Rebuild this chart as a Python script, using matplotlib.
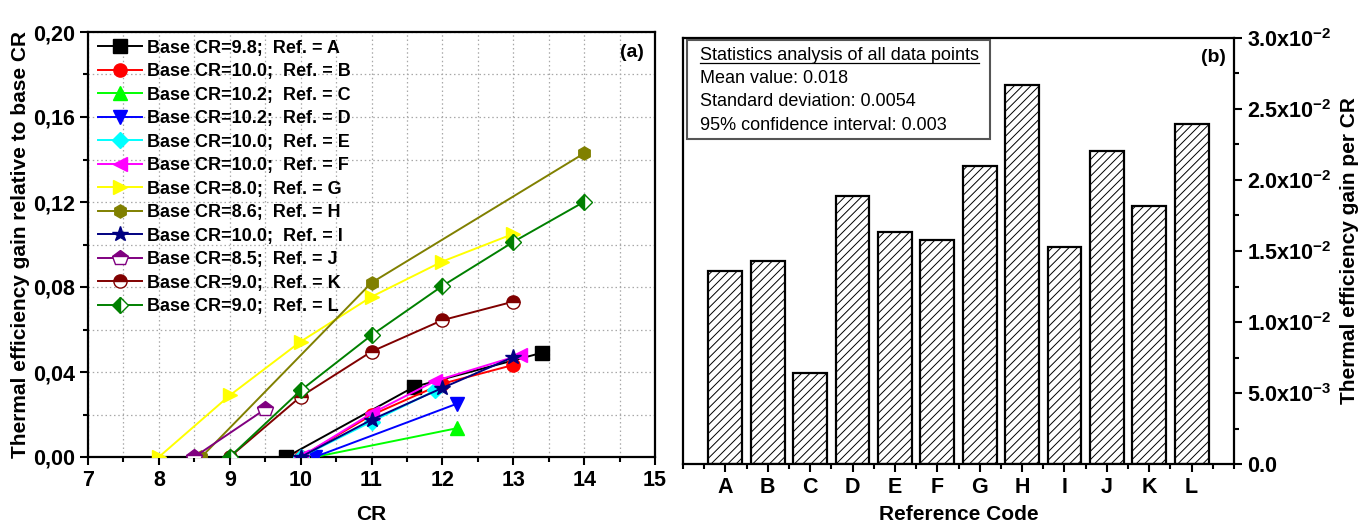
import matplotlib
matplotlib.use("Agg")
import math
import matplotlib.pyplot as plt
from matplotlib.ticker import MultipleLocator, FuncFormatter, FixedLocator
from matplotlib.lines import Line2D
from matplotlib.patches import Rectangle

plt.rcParams['font.family'] = ['Liberation Sans', 'DejaVu Sans']
plt.rcParams['mathtext.fontset'] = 'custom'
plt.rcParams['mathtext.rm'] = 'Liberation Sans'
plt.rcParams['mathtext.bf'] = 'Liberation Sans:bold'
plt.rcParams['hatch.linewidth'] = 0.7

# ---------------- data: panel (a) ----------------
ref_codes = ['A', 'B', 'C', 'D', 'E', 'F', 'G', 'H', 'I', 'J', 'K', 'L']
base_cr_labels = ['9.8', '10.0', '10.2', '10.2', '10.0', '10.0', '8.0', '8.6', '10.0', '8.5', '9.0', '9.0']

cr_A = [9.8, 11.6, 13.4]
gain_A = [0.0, 0.033, 0.049]
cr_B = [10.0, 11.0, 12.0, 13.0]
gain_B = [0.0, 0.0197, 0.0345, 0.0433]
cr_C = [10.2, 12.2]
gain_C = [0.0, 0.0135]
cr_D = [10.2, 12.2]
gain_D = [0.0, 0.025]
cr_E = [10.0, 11.0, 11.9]
gain_E = [0.0, 0.0166, 0.0313]
cr_F = [10.0, 11.0, 11.9, 13.1]
gain_F = [0.0, 0.0205, 0.0358, 0.048]
cr_G = [8.0, 9.0, 10.0, 11.0, 12.0, 13.0]
gain_G = [0.0, 0.029, 0.0543, 0.0754, 0.092, 0.105]
cr_H = [8.6, 11.0, 14.0]
gain_H = [0.0, 0.082, 0.1429]
cr_I = [10.0, 11.0, 12.0, 13.0]
gain_I = [0.0, 0.0175, 0.0325, 0.047]
cr_J = [8.5, 9.5]
gain_J = [0.0, 0.0225]
cr_K = [9.0, 10.0, 11.0, 12.0, 13.0]
gain_K = [0.0, 0.0284, 0.0496, 0.0644, 0.0731]
cr_L = [9.0, 10.0, 11.0, 12.0, 13.0, 14.0]
gain_L = [0.0, 0.0313, 0.0573, 0.0805, 0.1012, 0.1201]

# ---------------- data: panel (b) ----------------
gain_per_cr = [0.01361, 0.01430, 0.00639, 0.01889, 0.01631, 0.01577,
               0.02099, 0.02669, 0.01530, 0.02204, 0.01819, 0.02394]

stats_lines = ['Statistics analysis of all data points',
               'Mean value: 0.018',
               'Standard deviation: 0.0054',
               '95% confidence interval: 0.003']

series_x = [cr_A, cr_B, cr_C, cr_D, cr_E, cr_F, cr_G, cr_H, cr_I, cr_J, cr_K, cr_L]
series_y = [gain_A, gain_B, gain_C, gain_D, gain_E, gain_F, gain_G, gain_H, gain_I, gain_J, gain_K, gain_L]

colors = ['#000000', '#FF0000', '#00FF00', '#0000FF', '#00FFFF', '#FF00FF',
          '#FFFF00', '#808000', '#000080', '#800080', '#800000', '#008000']
markers = ['s', 'o', '^', 'v', 'D', '<', '>', 'h', '*', 'p', 'o', 'D']
fills = ['full'] * 9 + ['top', 'top', 'left']
msizes = [9.5, 9.5, 9.5, 9.5, 8.5, 9.5, 9.5, 9.5, 11.5, 11.5, 9.5, 8.5]

fig = plt.figure(figsize=(13.61, 5.22), dpi=100)
W, H = 1361.0, 522.0

def ax_rect(l, r, t, b):
    return [l / W, 1 - b / H, (r - l) / W, (b - t) / H]

TICKFS = 15.5
LABFS = 15

# ---------------- panel (a) ----------------
ax = fig.add_axes(ax_rect(88, 655, 32, 457))
for i in range(len(series_x)):
    ax.plot(series_x[i], series_y[i], color=colors[i], marker=markers[i],
            markersize=msizes[i], fillstyle=fills[i], markerfacecoloralt='white',
            markeredgecolor=colors[i], markeredgewidth=1.0, linewidth=1.4,
            label='Base CR=%s;  Ref. = %s' % (base_cr_labels[i], ref_codes[i]), zorder=3)

ax.set_xlim(7, 15)
ax.set_ylim(0, 0.20)
ax.xaxis.set_major_locator(MultipleLocator(1))
ax.xaxis.set_minor_locator(MultipleLocator(0.5))
ax.yaxis.set_major_locator(MultipleLocator(0.04))
ax.yaxis.set_minor_locator(MultipleLocator(0.02))
ax.yaxis.set_major_formatter(FuncFormatter(lambda v, p: ('%.2f' % v).replace('.', ',')))
ax.xaxis.set_major_formatter(FuncFormatter(lambda v, p: '%d' % round(v)))
ax.grid(True, which='both', linestyle=(0, (1.2, 2.2)), color='#a8a8a8', linewidth=0.9, zorder=0)
ax.set_axisbelow(True)
ax.tick_params(which='both', direction='out', top=False, right=False, width=1.5,
               labelsize=TICKFS)
ax.tick_params(which='major', length=6)
ax.tick_params(which='minor', length=3.5)
for lab in ax.get_xticklabels() + ax.get_yticklabels():
    lab.set_fontweight('bold')
for s in ax.spines.values():
    s.set_linewidth(1.6)
ax.set_xlabel('CR', fontsize=LABFS, fontweight='bold', labelpad=10)
ax.set_ylabel('Thermal efficiency gain relative to base CR', fontsize=LABFS,
              fontweight='bold', labelpad=2)
ax.text(0.98, 0.972, '(a)', transform=ax.transAxes, ha='right', va='top',
        fontsize=14, fontweight='bold')
leg = ax.legend(loc='upper left', bbox_to_anchor=(-0.004, 1.012), frameon=False,
                prop={'size': 13, 'weight': 'bold'}, handlelength=2.4,
                handletextpad=0.3, labelspacing=0.36, borderaxespad=0.3)

# ---------------- panel (b) ----------------
bx = fig.add_axes(ax_rect(683, 1234, 38, 464))
pos = list(range(1, len(ref_codes) + 1))
bx.bar(pos, gain_per_cr, width=0.8, facecolor='white', edgecolor='black',
       linewidth=1.6, hatch='////', zorder=2)
bx.set_xlim(0, 13)
bx.set_ylim(0, 0.03)
bx.xaxis.set_major_locator(FixedLocator(pos))
bx.set_xticklabels(ref_codes)
bx.xaxis.set_minor_locator(MultipleLocator(0.5))
bx.yaxis.tick_right()
bx.yaxis.set_label_position('right')
bx.yaxis.set_major_locator(MultipleLocator(0.005))
bx.yaxis.set_minor_locator(MultipleLocator(0.0025))

def sci_fmt(v, p):
    if abs(v) < 1e-12:
        return r'$\mathbf{0.0}$'
    e = int(math.floor(math.log10(abs(v)) + 1e-9))
    m = v / 10 ** e
    return r'$\mathbf{%.1fx10^{%d}}$' % (m, e)

bx.yaxis.set_major_formatter(FuncFormatter(sci_fmt))
bx.tick_params(which='both', direction='out', left=False, top=False, right=True,
               width=1.5, labelsize=TICKFS)
bx.tick_params(which='major', length=6)
bx.tick_params(which='minor', length=3.5)
for lab in bx.get_xticklabels():
    lab.set_fontweight('bold')
for s in bx.spines.values():
    s.set_linewidth(1.6)
bx.set_xlabel('Reference Code', fontsize=LABFS, fontweight='bold', labelpad=5)
bx.set_ylabel('Thermal efficiency gain per CR', fontsize=LABFS, fontweight='bold',
              labelpad=6)
bx.text(0.985, 0.975, '(b)', transform=bx.transAxes, ha='right', va='top',
        fontsize=14, fontweight='bold')

# statistics box
box_l, box_r, box_t, box_b = 687, 990, 40, 139
fig.add_artist(Rectangle((box_l / W, 1 - box_b / H), (box_r - box_l) / W,
                         (box_b - box_t) / H, transform=fig.transFigure,
                         facecolor='white', edgecolor='#555555', linewidth=1.5,
                         zorder=5))
txts = []
for k, line in enumerate(stats_lines):
    t = fig.text(700 / W, 1 - (56 + 23 * k) / H, line, fontsize=13,
                 ha='left', va='center', zorder=6)
    txts.append(t)

fig.canvas.draw()
r = fig.canvas.get_renderer()
bb = txts[0].get_window_extent(renderer=r)
uy = (bb.y0 + 1.5) / fig.bbox.height
fig.add_artist(Line2D([bb.x0 / fig.bbox.width, bb.x1 / fig.bbox.width], [uy, uy],
                      transform=fig.transFigure, color='black', linewidth=0.9, zorder=7))

fig.savefig('out.png', dpi=100)
